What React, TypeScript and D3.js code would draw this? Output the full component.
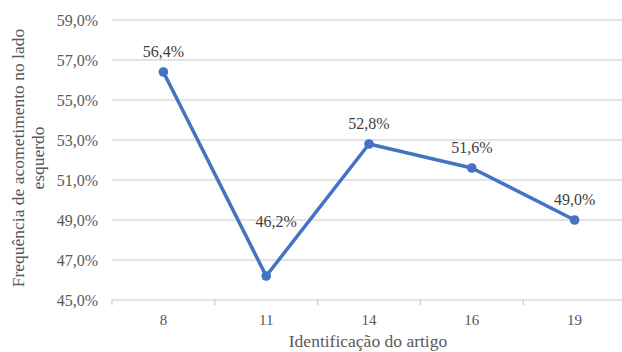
import React from "react";
import * as d3 from "d3";

const categories: string[] = ["8", "11", "14", "16", "19"];
const values: number[] = [56.4, 46.2, 52.8, 51.6, 49.0];
const yTicks: number[] = [45, 47, 49, 51, 53, 55, 57, 59];
const yTitleLines: string[] = ["Frequência de acometimento no lado", "esquerdo"];
const xTitle = "Identificação do artigo";

const W = 622;
const H = 352;
const FONT = '"Liberation Serif", "DejaVu Serif", serif';
const TEXT = "#595959";
const LINE = "#4472C4";

const fmt = (v: number) => v.toFixed(1).replace(".", ",") + "%";

export default function App() {
  const x = d3.scaleBand<string>().domain(categories).range([112, 626]);
  const y = d3.scaleLinear().domain([45, 59]).range([300, 20]);
  const cx = (c: string) => (x(c) ?? 0) + x.bandwidth() / 2;

  const line = d3
    .line<number>()
    .x((_, i) => cx(categories[i]))
    .y((d) => y(d));

  // label placement relative to each point (the dip label sits higher)
  const labelShift = (i: number) =>
    values[i] === d3.min(values) ? { dx: 10, dy: -49 } : { dx: 0, dy: -15 };

  const boundaries = d3.range(categories.length + 1).map((i) => 112 + i * x.bandwidth());

  return (
    <svg
      width={W}
      height={H}
      style={{ position: "absolute", left: 0, top: 0, background: "#fff", fontFamily: FONT }}
    >
      {yTicks.map((t) => (
        <g key={t}>
          {t !== 45 && (
            <line x1={112} x2={W} y1={y(t)} y2={y(t)} stroke="#c8c8c8" strokeWidth={1.2} />
          )}
          <text x={98} y={y(t)} dy="0.35em" textAnchor="end" fontSize={16} fill={TEXT}>
            {fmt(t)}
          </text>
        </g>
      ))}
      <line x1={112} x2={W} y1={y(45)} y2={y(45)} stroke="#c8c8c8" strokeWidth={1.2} />
      {boundaries.map((b, i) => (
        <line key={i} x1={b} x2={b} y1={y(45)} y2={y(45) + 5} stroke="#c8c8c8" strokeWidth={1.2} />
      ))}
      {categories.map((c) => (
        <text key={c} x={cx(c)} y={325} textAnchor="middle" fontSize={15} fill={TEXT}>
          {c}
        </text>
      ))}

      <path d={line(values) ?? ""} fill="none" stroke={LINE} strokeWidth={3.5} strokeLinejoin="round" />
      {values.map((v, i) => (
        <circle key={i} cx={cx(categories[i])} cy={y(v)} r={4.8} fill={LINE} />
      ))}
      {values.map((v, i) => {
        const s = labelShift(i);
        return (
          <text
            key={i}
            x={cx(categories[i]) + s.dx}
            y={y(v) + s.dy}
            textAnchor="middle"
            fontSize={16}
            fill="#404040"
          >
            {fmt(v)}
          </text>
        );
      })}

      <text
        transform={`translate(24, 158) rotate(-90)`}
        textAnchor="middle"
        fontSize={17.5}
        fill={TEXT}
      >
        {yTitleLines.map((l, i) => (
          <tspan key={i} x={0} dy={i === 0 ? 0 : 20}>
            {l}
          </tspan>
        ))}
      </text>
      <text x={368} y={347} textAnchor="middle" fontSize={17.5} fill={TEXT}>
        {xTitle}
      </text>
    </svg>
  );
}
